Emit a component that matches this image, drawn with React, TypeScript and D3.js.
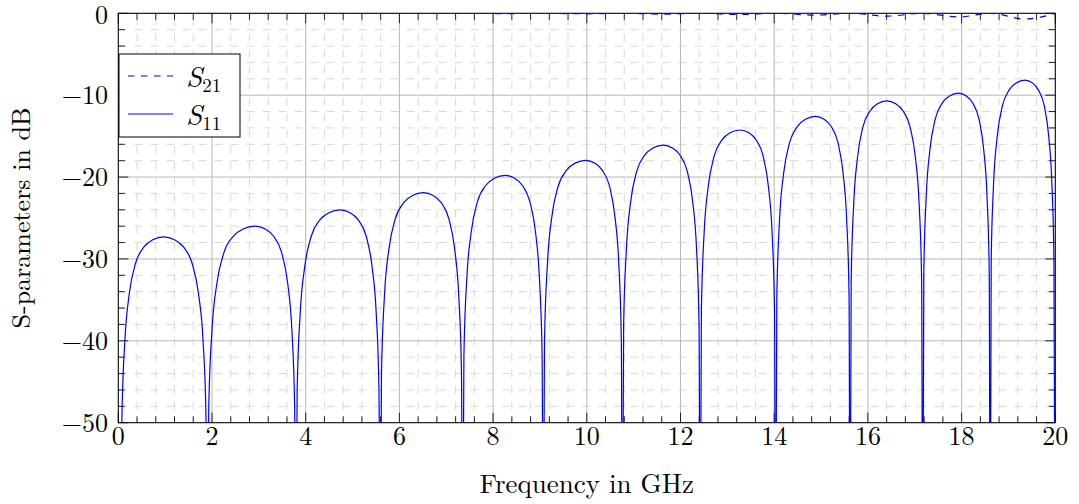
import React from "react";
import * as d3 from "d3";

// S11 nulls (GHz) — the curve drops out of the plot there
const s11Nulls = [0.05, 1.9, 3.79, 5.59, 7.35, 9.07, 10.76, 12.42, 14.03, 15.62, 17.17, 18.61, 19.995];

// S11 lobes: [GHz, dB]
const lobe01: [number, number][] = [[0.077,-49.3],[0.142,-39.8],[0.233,-34.3],[0.37,-30.5],[0.553,-28.5],[0.736,-27.65],[0.965,-27.3],[1.199,-27.65],[1.386,-28.5],[1.573,-30.5],[1.713,-34.3],[1.807,-39.8],[1.872,-49.3]];
const lobe02: [number, number][] = [[1.931,-48.0],[2.002,-38.5],[2.104,-33.0],[2.256,-29.2],[2.46,-27.2],[2.664,-26.35],[2.918,-26.0],[3.136,-26.35],[3.31,-27.2],[3.485,-29.2],[3.616,-33.0],[3.703,-38.5],[3.764,-48.0]];
const lobe03: [number, number][] = [[3.818,-46.0],[3.884,-36.5],[3.978,-31.0],[4.12,-27.2],[4.308,-25.2],[4.497,-24.35],[4.732,-24.0],[4.947,-24.35],[5.118,-25.2],[5.29,-27.2],[5.418,-31.0],[5.504,-36.5],[5.564,-46.0]];
const lobe04: [number, number][] = [[5.618,-43.9],[5.682,-34.4],[5.774,-28.9],[5.912,-25.1],[6.096,-23.1],[6.28,-22.25],[6.51,-21.9],[6.72,-22.25],[6.888,-23.1],[7.056,-25.1],[7.182,-28.9],[7.266,-34.4],[7.325,-43.9]];
const lobe05: [number, number][] = [[7.377,-41.8],[7.44,-32.3],[7.531,-26.8],[7.666,-23.0],[7.847,-21.0],[8.028,-20.15],[8.254,-19.8],[8.458,-20.15],[8.621,-21.0],[8.784,-23.0],[8.907,-26.8],[8.988,-32.3],[9.046,-41.8]];
const lobe06: [number, number][] = [[9.097,-39.95],[9.161,-30.45],[9.251,-24.95],[9.387,-21.15],[9.569,-19.15],[9.75,-18.3],[9.977,-17.95],[10.173,-18.3],[10.329,-19.15],[10.486,-21.15],[10.603,-24.95],[10.682,-30.45],[10.737,-39.95]];
const lobe07: [number, number][] = [[10.786,-38.1],[10.847,-28.6],[10.934,-23.1],[11.065,-19.3],[11.239,-17.3],[11.413,-16.45],[11.63,-16.1],[11.828,-16.45],[11.986,-17.3],[12.144,-19.3],[12.262,-23.1],[12.341,-28.6],[12.396,-38.1]];
const lobe08: [number, number][] = [[12.446,-36.25],[12.505,-26.75],[12.59,-21.25],[12.718,-17.45],[12.888,-15.45],[13.058,-14.6],[13.27,-14.25],[13.46,-14.6],[13.612,-15.45],[13.764,-17.45],[13.878,-21.25],[13.954,-26.75],[14.007,-36.25]];
const lobe09: [number, number][] = [[14.056,-34.6],[14.115,-25.1],[14.2,-19.6],[14.328,-15.8],[14.498,-13.8],[14.668,-12.95],[14.88,-12.6],[15.065,-12.95],[15.213,-13.8],[15.361,-15.8],[15.472,-19.6],[15.546,-25.1],[15.598,-34.6]];
const lobe10: [number, number][] = [[15.643,-32.7],[15.698,-23.2],[15.776,-17.7],[15.893,-13.9],[16.049,-11.9],[16.205,-11.05],[16.4,-10.7],[16.593,-11.05],[16.747,-11.9],[16.901,-13.9],[17.016,-17.7],[17.093,-23.2],[17.147,-32.7]];
const lobe11: [number, number][] = [[17.193,-31.75],[17.246,-22.25],[17.322,-16.75],[17.436,-12.95],[17.588,-10.95],[17.74,-10.1],[17.93,-9.75],[18.1,-10.1],[18.236,-10.95],[18.372,-12.95],[18.474,-16.75],[18.542,-22.25],[18.59,-31.75]];
const lobe12: [number, number][] = [[18.632,-30.15],[18.684,-20.65],[18.758,-15.15],[18.869,-11.35],[19.017,-9.35],[19.165,-8.5],[19.35,-8.15],[19.51,-8.5],[19.638,-9.35],[19.766,-11.35],[19.862,-15.15],[19.926,-20.65],[19.971,-30.15]];
const s11Lobes = [lobe01, lobe02, lobe03, lobe04, lobe05, lobe06, lobe07, lobe08, lobe09, lobe10, lobe11, lobe12];

// S21: near 0 dB, small dips where S11 peaks
const s21Freq = [0, 0.965, 1.9, 2.918, 3.79, 4.732, 5.59, 6.51, 7.35, 8.254, 9.07, 9.977, 10.76, 11.63, 12.42, 13.27, 14.03, 14.88, 15.62, 16.4, 17.17, 17.93, 18.61, 19.35, 20];
const s21Db = [0, -0.005, 0, -0.01, 0, -0.015, 0, -0.025, 0, -0.04, 0, -0.06, 0, -0.1, 0, -0.15, 0, -0.22, 0, -0.35, 0, -0.45, 0, -0.7, 0];

const xTicks = [0, 2, 4, 6, 8, 10, 12, 14, 16, 18, 20];
const yTicks = [0, -10, -20, -30, -40, -50];

const W = 1079;
const H = 504;
const left = 118.3;
const right = 1055.3;
const top = 13.3;
const bottom = 422.7;
const font = "'Latin Modern Roman', 'CMU Serif', 'Liberation Serif', serif";

const App = () => {
  const x = d3.scaleLinear().domain([0, 20]).range([left, right]);
  const y = d3.scaleLinear().domain([-50, 0]).range([bottom, top]);

  const s11: [number, number][] = [];
  s11Nulls.forEach((n, i) => {
    s11.push([n, -70]);
    if (s11Lobes[i]) s11.push(...s11Lobes[i]);
  });
  const s21: [number, number][] = s21Freq.map((f, i) => [f, s21Db[i]]);

  const line = d3
    .line<[number, number]>()
    .x((d) => x(d[0]))
    .y((d) => y(d[1]))
    .curve(d3.curveMonotoneX);

  const xMinor = d3.range(0, 20.001, 0.4).filter((v) => Math.abs(v / 2 - Math.round(v / 2)) > 0.01);
  const yMinor = d3.range(-50, 0.001, 2).filter((v) => v % 10 !== 0);
  const tickCol = "#222";

  return (
    <svg width={W} height={H} style={{ position: "absolute", left: 0, top: 0 }} fontFamily={font}>
      <defs>
        <clipPath id="plotClip">
          <rect x={left} y={top} width={right - left} height={bottom - top} />
        </clipPath>
      </defs>
      <rect x={0} y={0} width={W} height={H} fill="#fff" />

      {/* minor grid */}
      <g stroke="#d8d8d8" strokeWidth={1} strokeDasharray="8 8">
        {xMinor.map((v) => (
          <line key={"xm" + v} x1={x(v)} x2={x(v)} y1={bottom} y2={top} strokeDashoffset={3} />
        ))}
        {yMinor.map((v) => (
          <line key={"ym" + v} x1={left} x2={right} y1={y(v)} y2={y(v)} />
        ))}
      </g>
      {/* major grid */}
      <g stroke="#b8b8b8" strokeWidth={1}>
        {xTicks.map((v) => (
          <line key={"xg" + v} x1={x(v)} x2={x(v)} y1={bottom} y2={top} />
        ))}
        {yTicks.map((v) => (
          <line key={"yg" + v} x1={left} x2={right} y1={y(v)} y2={y(v)} />
        ))}
      </g>

      {/* ticks, inside on all four sides */}
      <g stroke={tickCol} strokeWidth={1}>
        {xTicks.map((v) => (
          <g key={"xt" + v}>
            <line x1={x(v)} x2={x(v)} y1={bottom} y2={bottom - 10} />
            <line x1={x(v)} x2={x(v)} y1={top} y2={top + 10} />
          </g>
        ))}
        {xMinor.map((v) => (
          <g key={"xmt" + v}>
            <line x1={x(v)} x2={x(v)} y1={bottom} y2={bottom - 6.5} />
            <line x1={x(v)} x2={x(v)} y1={top} y2={top + 6.5} />
          </g>
        ))}
        {yTicks.map((v) => (
          <g key={"yt" + v}>
            <line x1={left} x2={left + 10} y1={y(v)} y2={y(v)} />
            <line x1={right} x2={right - 10} y1={y(v)} y2={y(v)} />
          </g>
        ))}
        {yMinor.map((v) => (
          <g key={"ymt" + v}>
            <line x1={left} x2={left + 6.5} y1={y(v)} y2={y(v)} />
            <line x1={right} x2={right - 6.5} y1={y(v)} y2={y(v)} />
          </g>
        ))}
      </g>
      <rect x={left} y={top} width={right - left} height={bottom - top} fill="none" stroke="#000" strokeWidth={1} />

      {/* series */}
      <g clipPath="url(#plotClip)" fill="none" stroke="#0000ff" strokeWidth={1.2}>
        <path d={line(s21) || ""} strokeDasharray="6.5 6.5" />
        <path d={line(s11) || ""} />
      </g>

      {/* tick labels */}
      <g fontSize={26} fill="#000">
        {xTicks.map((v) => (
          <text key={"xl" + v} x={x(v)} y={445} textAnchor="middle">
            {v}
          </text>
        ))}
        {yTicks.map((v) => (
          <text key={"yl" + v} x={108} y={Math.max(y(v) + 9, 24)} textAnchor="end">
            {v < 0 ? "\u2212" + Math.abs(v) : v}
          </text>
        ))}
      </g>

      <text x={(left + right) / 2} y={493} fontSize={27} textAnchor="middle">
        Frequency in GHz
      </text>
      <text transform={`translate(30,${(top + bottom) / 2}) rotate(-90)`} fontSize={26} textAnchor="middle">
        S-parameters in dB
      </text>

      {/* legend */}
      <g>
        <rect x={119} y={54} width={121} height={83} fill="#fff" stroke="#000" strokeWidth={1} />
        <line x1={128} x2={173} y1={76} y2={76} stroke="#0000ff" strokeWidth={1.2} strokeDasharray="6.5 6.5" />
        <line x1={128} x2={173} y1={114} y2={114} stroke="#0000ff" strokeWidth={1.2} />
        <text x={186} y={87} fontSize={29}>
          <tspan fontStyle="italic">S</tspan>
          <tspan fontSize={19} dy={5}>21</tspan>
        </text>
        <text x={186} y={125} fontSize={29}>
          <tspan fontStyle="italic">S</tspan>
          <tspan fontSize={19} dy={5}>11</tspan>
        </text>
      </g>
    </svg>
  );
};

export default App;
